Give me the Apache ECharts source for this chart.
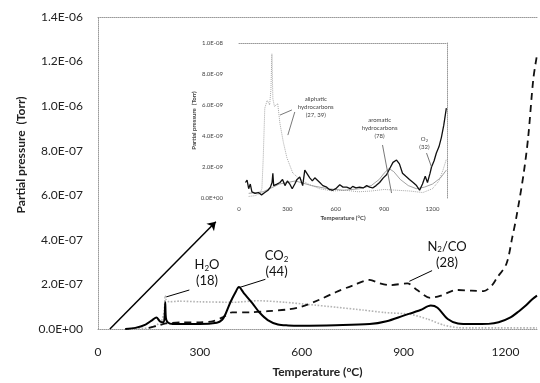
<!DOCTYPE html>
<html>
<head>
<meta charset="utf-8">
<script src="https://cdn.jsdelivr.net/npm/echarts@6/dist/echarts.min.js"></script>
<style>
  html, body { margin: 0; padding: 0; background: #fff; }
  #chart { width: 540px; height: 383px; }
</style>
</head>
<body>
<div id="chart"></div>
<script>
// main chart: temperature (°C) and partial pressure in units of 1e-7 Torr
const h2oTemp = [100, 150, 185, 195, 198, 201, 210, 240, 300, 400, 473, 550, 620, 700, 780, 844, 920, 970, 1019, 1060, 1100, 1200, 1293];
const h2oVal  = [0.02, 0.05, 0.3, 0.8, 1.5, 1.3, 1.22, 1.25, 1.22, 1.2, 1.27, 1.2, 1.1, 0.98, 0.85, 0.74, 0.66, 0.45, 0.17, 0.06, 0.05, 0.05, 0.05];

const co2Temp = [80, 110, 140, 160, 172, 182, 192, 196, 198, 200, 205, 220, 300, 350, 365, 375, 390, 405, 415, 430, 455, 475, 500, 530, 560, 600, 700, 800, 850, 900, 950, 980, 1000, 1030, 1060, 1100, 1150, 1180, 1215, 1240, 1260, 1280, 1293];
const co2Val  = [0, 0.05, 0.2, 0.4, 0.52, 0.35, 0.3, 0.5, 1.2, 0.5, 0.3, 0.22, 0.22, 0.28, 0.4, 0.65, 1.2, 1.65, 1.88, 1.6, 1.15, 0.75, 0.4, 0.2, 0.16, 0.15, 0.17, 0.22, 0.35, 0.6, 0.85, 1.05, 0.95, 0.45, 0.25, 0.22, 0.23, 0.3, 0.52, 0.8, 1.05, 1.35, 1.5];

const n2coTemp = [150, 175, 200, 250, 300, 340, 370, 395, 450, 500, 560, 600, 650, 700, 750, 800, 830, 861, 911, 940, 978, 1010, 1057, 1100, 1136, 1160, 1174, 1203, 1220, 1232, 1253, 1267, 1282, 1293];
const n2coVal  = [0.05, 0.15, 0.25, 0.3, 0.3, 0.35, 0.55, 0.75, 0.75, 0.8, 0.88, 1.0, 1.3, 1.65, 1.95, 2.2, 2.05, 1.97, 2.05, 1.75, 1.4, 1.5, 1.75, 1.72, 1.7, 1.95, 2.27, 2.93, 4.1, 5.0, 6.9, 8.6, 11.2, 12.3];

// inset: partial pressure in units of 1e-9 Torr
const alipTemp = [60, 100, 130, 142, 150, 160, 175, 190, 198, 204, 210, 220, 240, 254, 275, 297, 334, 380, 430, 500, 580, 660, 740, 820, 900, 980, 1060, 1140, 1200, 1240, 1265, 1286];
const alipVal  = [0.1, 0.15, 0.3, 0.6, 2.5, 5.8, 6.3, 6.0, 7.0, 9.3, 6.4, 5.9, 6.1, 4.8, 3.6, 2.6, 1.6, 1.2, 0.9, 0.6, 0.45, 0.5, 0.4, 0.45, 0.55, 0.5, 0.45, 0.35, 0.6, 1.1, 1.8, 2.5];

const aromTemp = [60, 150, 250, 350, 450, 550, 650, 750, 820, 870, 900, 930, 960, 1000, 1050, 1100, 1150, 1200, 1250, 1286];
const aromVal  = [0.3, 0.4, 0.9, 1.1, 0.8, 0.6, 0.5, 0.6, 0.8, 1.2, 1.6, 1.9, 1.7, 1.2, 0.8, 0.6, 0.7, 0.9, 1.3, 1.8];

const o2Temp = [40, 50, 60, 70, 80, 100, 120, 140, 160, 180, 195, 205, 210, 215, 235, 254, 270, 285, 300, 315, 330, 346, 360, 377, 395, 408, 420, 439, 455, 470, 501, 520, 544, 560, 581, 600, 625, 645, 668, 690, 705, 725, 748, 770, 792, 810, 829, 850, 872, 895, 915, 935, 955, 977, 995, 1014, 1035, 1057, 1080, 1101, 1120, 1138, 1155, 1169, 1185, 1194, 1210, 1224, 1240, 1255, 1270, 1286];
const o2Val  = [1.0, 1.15, 0.6, 0.9, 0.4, 0.3, 0.35, 0.2, 0.35, 0.5, 0.7, 1.0, 1.6, 0.8, 0.9, 1.0, 1.2, 0.8, 1.1, 0.9, 0.6, 0.9, 1.2, 1.35, 0.8, 1.8, 1.9, 1.3, 1.1, 1.3, 1.0, 0.8, 0.7, 0.55, 0.5, 0.6, 0.85, 0.7, 0.7, 0.6, 0.75, 0.65, 0.7, 0.65, 0.8, 0.7, 0.65, 0.8, 1.0, 1.3, 1.5, 1.9, 2.3, 2.45, 2.2, 1.6, 1.4, 1.2, 1.0, 0.8, 0.5, 0.9, 1.4, 1.0, 1.6, 2.0, 2.4, 2.9, 3.3, 3.9, 4.7, 5.8];

const xTicks = [0, 300, 600, 900, 1200];

const FONT = 'Lato, "Open Sans", sans-serif';

const pairs = (xs, ys) => xs.map((x, i) => [x, ys[i]]);

function sci(x) {
  if (Math.abs(x) < 1e-20) return '0.0E+00';
  const [m, e] = x.toExponential(1).split('e');
  const n = parseInt(e, 10);
  return m + 'E' + (n < 0 ? '-' : '+') + String(Math.abs(n)).padStart(2, '0');
}

const tickOnly = (v) => (xTicks.includes(v) ? String(v) : '');
const dotted = { show: true, onZero: false, lineStyle: { color: '#9a9a9a', type: 'dotted', width: 1 } };

const richMain = {
  n: { fontSize: 13, fontFamily: FONT, color: '#111', lineHeight: 16 },
  s: { fontSize: 8, fontFamily: FONT, color: '#111', lineHeight: 16, padding: [7, 0, 0, 0] },
};
const richInset = {
  n: { fontSize: 6, fontFamily: FONT, color: '#444', lineHeight: 8 },
  s: { fontSize: 4, fontFamily: FONT, color: '#444', lineHeight: 8, padding: [3, 0, 0, 0] },
};

const textPoint = (coord, formatter, rich) => ({
  coord,
  symbol: 'circle',
  symbolSize: 1,
  itemStyle: { color: 'rgba(0,0,0,0)' },
  label: { show: true, position: 'inside', formatter, rich },
});

const chart = echarts.init(document.getElementById('chart'));

chart.setOption({
  animation: false,
  backgroundColor: '#fff',
  textStyle: { fontFamily: FONT },
  grid: [
    { left: 98, top: 17, right: 0, bottom: 46 },
    { left: 239, top: 43, width: 208, height: 155 },
  ],
  xAxis: [
    {
      gridIndex: 0, type: 'value', min: 0, max: 1293, interval: 300,
      axisLine: dotted, axisTick: { show: false }, splitLine: { show: false },
      axisLabel: { margin: 17, fontSize: 12, color: '#222', formatter: tickOnly },
      name: 'Temperature (°C)', nameLocation: 'middle', nameGap: 37,
      nameTextStyle: { fontSize: 12, fontWeight: 'bold', color: '#222' },
    },
    {
      gridIndex: 0, type: 'value', position: 'top', min: 0, max: 1293,
      axisLine: dotted, axisTick: { show: false }, axisLabel: { show: false }, splitLine: { show: false },
    },
    {
      gridIndex: 1, type: 'value', min: 0, max: 1290, interval: 300,
      axisLine: { show: false }, axisTick: { show: false }, splitLine: { show: false },
      axisLabel: { margin: 8, fontSize: 6, color: '#444', formatter: tickOnly },
      name: 'Temperature (°C)', nameLocation: 'middle', nameGap: 17,
      nameTextStyle: { fontSize: 6, fontWeight: 'bold', color: '#444' },
    },
    {
      gridIndex: 1, type: 'value', position: 'top', min: 0, max: 1290,
      axisLine: dotted, axisTick: { show: false }, axisLabel: { show: false }, splitLine: { show: false },
    },
  ],
  yAxis: [
    {
      gridIndex: 0, type: 'value', min: 0, max: 14, interval: 2,
      axisLine: dotted, axisTick: { show: false }, splitLine: { show: false },
      axisLabel: { margin: 15, fontSize: 12, color: '#222', formatter: (v) => sci(v * 1e-7) },
      name: 'Partial pressure  (Torr)', nameLocation: 'middle', nameGap: 66,
      nameTextStyle: { fontSize: 12, fontWeight: 'bold', color: '#222', padding: [0, 0, 0, 36] },
    },
    {
      gridIndex: 1, type: 'value', min: 0, max: 10, interval: 2,
      axisLine: { show: false }, axisTick: { show: false }, splitLine: { show: false },
      axisLabel: { margin: 16, fontSize: 6, color: '#444', formatter: (v) => sci(v * 1e-9) },
      name: 'Partial pressure  (Torr)', nameLocation: 'middle', nameGap: 38,
      nameTextStyle: { fontSize: 6, fontWeight: 'bold', color: '#444' },
    },
    {
      gridIndex: 1, type: 'value', position: 'right', min: 0, max: 10,
      axisLine: dotted, axisTick: { show: false }, axisLabel: { show: false }, splitLine: { show: false },
    },
  ],
  series: [
    {
      name: 'H2O (18)', type: 'line', xAxisIndex: 0, yAxisIndex: 0,
      data: pairs(h2oTemp, h2oVal), showSymbol: false, smooth: 0.2,
      lineStyle: { color: '#b4b4b4', width: 1.6, type: 'dotted' },
    },
    {
      name: 'N2/CO (28)', type: 'line', xAxisIndex: 0, yAxisIndex: 0,
      data: pairs(n2coTemp, n2coVal), showSymbol: false, smooth: 0.3,
      lineStyle: { color: '#111', width: 1.8, type: [7, 5] },
    },
    {
      name: 'CO2 (44)', type: 'line', xAxisIndex: 0, yAxisIndex: 0,
      data: pairs(co2Temp, co2Val), showSymbol: false, smooth: 0.3,
      lineStyle: { color: '#000', width: 2 },
      markLine: {
        silent: true, symbol: ['none', 'none'], label: { show: false },
        lineStyle: { color: '#000', width: 1, type: 'solid' },
        data: [
          [{ coord: [269, 1.75] }, { coord: [201, 1.44] }],
          [{ coord: [493, 2.23] }, { coord: [412, 1.84] }],
          [{ coord: [984, 2.62] }, { coord: [917, 2.14] }],
          [{ coord: [35, 0], symbol: 'none' },
           { coord: [347, 4.81], symbol: 'arrow', symbolSize: 8, lineStyle: { width: 1.5 } }],
        ],
      },
      markPoint: {
        silent: true,
        data: [
          textPoint([321, 2.5], '{n|H}{s|2}{n|O}\n{n|(18)}', richMain),
          textPoint([526, 2.91], '{n|CO}{s|2}\n{n|(44)}', richMain),
          textPoint([1028, 3.35], '{n|N}{s|2}{n|/CO}\n{n|(28)}', richMain),
        ],
      },
    },
    {
      name: 'aliphatic', type: 'line', xAxisIndex: 2, yAxisIndex: 1,
      data: pairs(alipTemp, alipVal), showSymbol: false,
      lineStyle: { color: '#a8a8a8', width: 1, type: 'dotted' },
    },
    {
      name: 'aromatic', type: 'line', xAxisIndex: 2, yAxisIndex: 1,
      data: pairs(aromTemp, aromVal), showSymbol: false,
      lineStyle: { color: '#8c8c8c', width: 0.8 },
    },
    {
      name: 'O2', type: 'line', xAxisIndex: 2, yAxisIndex: 1,
      data: pairs(o2Temp, o2Val), showSymbol: false,
      lineStyle: { color: '#111', width: 1.3 },
      markLine: {
        silent: true, symbol: ['none', 'none'], label: { show: false },
        lineStyle: { color: '#555', width: 0.8, type: 'solid' },
        data: [
          [{ coord: [328, 5.68] }, { coord: [254, 5.35] }],
          [{ coord: [346, 5.55] }, { coord: [303, 4.06] }],
          [{ coord: [890, 3.42] }, { coord: [946, 0.32] }],
          [{ coord: [1163, 2.9] }, { coord: [1194, 2.0] }],
        ],
      },
      markPoint: {
        silent: true,
        data: [
          textPoint([476, 5.87], '{n|aliphatic}\n{n|hydrocarbons}\n{n|(27, 39)}', richInset),
          textPoint([872, 4.5], '{n|aromatic}\n{n|hydrocarbons}\n{n|(78)}', richInset),
          textPoint([1150, 3.55], '{n|O}{s|2}\n{n|(32)}', richInset),
        ],
      },
    },
  ],
});
</script>
</body>
</html>
